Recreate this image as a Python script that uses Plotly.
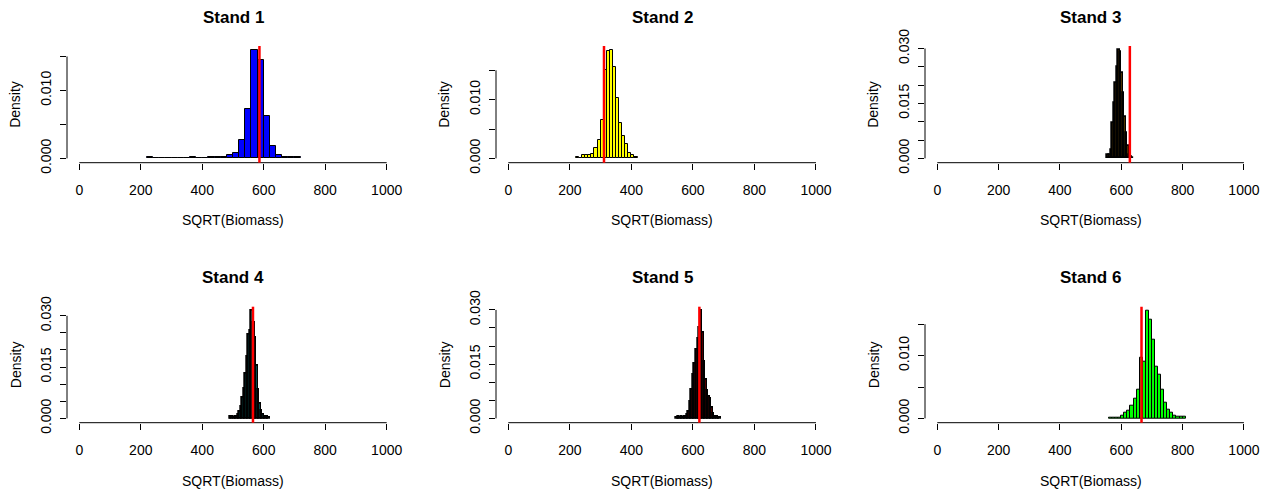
import plotly.graph_objects as go

# ---------------- data ----------------
stand_names = ["Stand 1", "Stand 2", "Stand 3", "Stand 4", "Stand 5", "Stand 6"]
bar_colors = ["#0000FF", "#FFFF00", "#FFA500", "#00FFFF", "#FF0000", "#00FF00"]

# histogram breaks: first break and bin width per stand
break_start = [220, 220, 555, 490, 545, 560]
bin_width = [20, 10, 5, 5, 5, 10]

dens_stand1 = [0.00024, 0.00005, 0.00005, 0.00005, 0.00005, 0.00005, 0.00005, 0.0002,
               0.00003, 0.00003, 0.0002, 0.0002, 0.0002, 0.0005, 0.0008, 0.0027,
               0.0072, 0.0159, 0.0145, 0.0062, 0.00185, 0.0005, 0.00024, 0.00024, 0.00024]
dens_stand2 = [0.0003, 0.0001, 0.0006, 0.0006, 0.0006, 0.0008, 0.0018, 0.0032, 0.0066,
               0.0150, 0.0183, 0.0184, 0.0155, 0.0103, 0.0060, 0.0038, 0.0024, 0.0009,
               0.0005, 0.0002]
dens_stand3 = [0.0010, 0.0008, 0.0024, 0.0096, 0.0150, 0.0205, 0.0250, 0.0295, 0.0291,
               0.0232, 0.0178, 0.0114, 0.0069, 0.0033, 0.0010, 0.0004, 0.0002]
dens_stand4 = [0.0004, 0.0004, 0.0003, 0.0004, 0.0004, 0.0010, 0.0020, 0.0035, 0.0060,
               0.0088, 0.0132, 0.0180, 0.0245, 0.0255, 0.0314, 0.0280, 0.0235, 0.0155,
               0.0085, 0.0042, 0.0022, 0.0010, 0.0005, 0.0004, 0.0004, 0.0003]
dens_stand5 = [0.0003, 0.0005, 0.0003, 0.0004, 0.0002, 0.0004, 0.0006, 0.0010, 0.0018,
               0.0045, 0.0080, 0.0120, 0.0150, 0.0190, 0.0220, 0.0250, 0.0297, 0.0236,
               0.0158, 0.0108, 0.0077, 0.0060, 0.0055, 0.0030, 0.0014, 0.0006, 0.0004,
               0.0003, 0.0002]
dens_stand6 = [0.0001, 0.0001, 0.0001, 0.0001, 0.0004, 0.0009, 0.0012, 0.0020, 0.0032,
               0.0045, 0.0096, 0.0091, 0.0171, 0.0157, 0.0125, 0.0082, 0.0069, 0.0046,
               0.0025, 0.0014, 0.0009, 0.0004, 0.0002, 0.0002, 0.0002]
densities = [dens_stand1, dens_stand2, dens_stand3, dens_stand4, dens_stand5, dens_stand6]

# observed value (red line) per stand
observed = [586, 311, 628, 565, 621, 666]

x_tick_vals = [0, 200, 400, 600, 800, 1000]
x_tick_text = ["0", "200", "400", "600", "800", "1000"]

y_tick_vals_a = [0.0, 0.005, 0.010, 0.015]
y_tick_text_a = ["0.000", "", "0.010", ""]
y_tick_vals_b = [0.0, 0.005, 0.010, 0.015, 0.020, 0.025, 0.030]
y_tick_text_b = ["0.000", "", "", "0.015", "", "", "0.030"]
y_ticks = [(y_tick_vals_a, y_tick_text_a), (y_tick_vals_a, y_tick_text_a),
           (y_tick_vals_b, y_tick_text_b), (y_tick_vals_b, y_tick_text_b),
           (y_tick_vals_b, y_tick_text_b), (y_tick_vals_a, y_tick_text_a)]

x_label = "SQRT(Biomass)"
y_label = "Density"

# ---------------- style / geometry (pixels in the 1271x494 window) ----------------
outline_width = [1, 1, 1.7, 1.7, 1.7, 1]
OFF = 8                       # default page margin before the plot div
W, H = 1271 - OFF, 494 - OFF
col_px = [(67.0, 399.0), (496.0, 828.3), (925.0, 1256.2)]
row_px = [(46.0, 162.7), (306.7, 422.7)]   # (top, bottom)
title_cy = [17.7, 277.5]
xlab_cy = [220.0, 480.5]


def px_x(p):
    return (p - OFF) / W


def px_y(p):
    return 1 - (p - OFF) / H


FONT = "Liberation Sans, Arial, sans-serif"

fig = go.Figure()
layout = dict(width=W, height=H, margin=dict(l=0, r=0, t=0, b=0, pad=0, autoexpand=False),
              paper_bgcolor="white", plot_bgcolor="white", showlegend=False,
              bargap=0, font=dict(family=FONT, size=14, color="black"))
shapes = []
annotations = []

for i in range(6):
    r, c = divmod(i, 3)
    n = "" if i == 0 else str(i + 1)
    xa, ya = "x" + n, "y" + n
    dens = densities[i]
    w = bin_width[i]
    centers = [break_start[i] + w * (k + 0.5) for k in range(len(dens))]
    ymax = max(dens)

    fig.add_trace(go.Bar(x=centers, y=dens, width=[w] * len(dens), xaxis=xa, yaxis=ya,
                         marker=dict(color=bar_colors[i],
                                     line=dict(color="black", width=outline_width[i])),
                         hoverinfo="skip"))

    x0p, x1p = col_px[c]
    tp, bp = row_px[r]
    tv, tt = y_ticks[i]
    layout["xaxis" + n] = dict(domain=[px_x(x0p), px_x(x1p)], range=[-40, 1040],
                               anchor=ya, tickvals=x_tick_vals, ticktext=x_tick_text,
                               ticks="outside", ticklen=6, tickwidth=1, tickcolor="black",
                               showline=False, showgrid=False, zeroline=False,
                               automargin=False, ticklabelstandoff=8,
                               tickfont=dict(family=FONT, size=14, color="black"))
    layout["yaxis" + n] = dict(domain=[px_y(bp), px_y(tp)],
                               range=[-0.04 * ymax, 1.04 * ymax], anchor=xa,
                               tickvals=tv, ticktext=tt, tickangle=-90,
                               ticks="outside", ticklen=6, tickwidth=1, tickcolor="black",
                               showline=False, showgrid=False, zeroline=False,
                               automargin=False, ticklabelstandoff=3,
                               tickfont=dict(family=FONT, size=14, color="black"))
    # R-style axis lines spanning tick range
    shapes.append(dict(type="line", xref=xa, yref=ya + " domain", x0=x_tick_vals[0],
                       x1=x_tick_vals[-1], y0=0, y1=0, line=dict(color="black", width=1)))
    shapes.append(dict(type="line", xref=xa + " domain", yref=ya, x0=0, x1=0,
                       y0=tv[0], y1=tv[-1], line=dict(color="black", width=1)))
    # observed value line
    shapes.append(dict(type="line", xref=xa, yref=ya + " domain", x0=observed[i],
                       x1=observed[i], y0=0, y1=1, line=dict(color="#FF0000", width=2.5)))

    cx = px_x((x0p + x1p) / 2)
    annotations.append(dict(text="<b>" + stand_names[i] + "</b>", xref="paper", yref="paper",
                            x=cx, y=px_y(title_cy[r]), xanchor="center", yanchor="middle",
                            showarrow=False, font=dict(family=FONT, size=17, color="black")))
    annotations.append(dict(text=x_label, xref="paper", yref="paper",
                            x=cx, y=px_y(xlab_cy[r]), xanchor="center", yanchor="middle",
                            showarrow=False, font=dict(family=FONT, size=14, color="black")))
    annotations.append(dict(text=y_label, xref="paper", yref="paper",
                            x=px_x(x0p - 51.5), y=px_y((tp + bp) / 2), xanchor="center",
                            yanchor="middle", textangle=-90, showarrow=False,
                            font=dict(family=FONT, size=14, color="black")))

layout["shapes"] = shapes
layout["annotations"] = annotations
fig.update_layout(**layout)
fig.write_html("out.html")
